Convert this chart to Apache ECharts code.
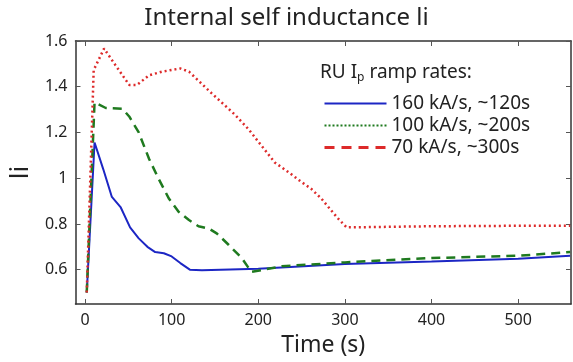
<!DOCTYPE html>
<html>
<head>
<meta charset="utf-8">
<script src="https://cdn.jsdelivr.net/npm/echarts@6/dist/echarts.min.js"></script>
<style>
  html, body { margin: 0; padding: 0; background: #fff; }
  #chart { width: 573px; height: 362px; }
</style>
</head>
<body>
<div id="chart"></div>
<script>
// time (s) and li values
const tBlue = [2, 11, 21, 31, 41, 52, 62, 72, 81, 91, 100, 110, 121, 135, 200, 300, 400, 500, 560]
const liBlue = [0.50, 1.156, 1.04, 0.918, 0.874, 0.785, 0.737, 0.70, 0.677, 0.672, 0.658, 0.629, 0.60, 0.598, 0.604, 0.625, 0.636, 0.648, 0.661]

const tGreen = [2, 11, 24, 43, 51, 62, 74, 85, 97, 108, 120, 131, 143, 152, 166, 181, 192, 227, 300, 400, 500, 560]
const liGreen = [0.50, 1.332, 1.307, 1.304, 1.27, 1.2, 1.084, 0.997, 0.91, 0.853, 0.817, 0.79, 0.78, 0.759, 0.708, 0.651, 0.59, 0.615, 0.632, 0.651, 0.661, 0.677]

const tRed = [2, 10, 22, 35, 51, 60, 74, 89, 110, 120, 146, 173, 189, 204, 219, 235, 250, 261, 273, 292, 302, 400, 500, 560]
const liRed = [0.50, 1.473, 1.567, 1.495, 1.408, 1.408, 1.45, 1.466, 1.48, 1.466, 1.372, 1.278, 1.213, 1.141, 1.069, 1.026, 0.983, 0.954, 0.91, 0.824, 0.785, 0.79, 0.792, 0.792]

const seriesNames = ['160 kA/s, ~120s', '100 kA/s, ~200s', '70 kA/s, ~300s']
const xTicks = [0, 100, 200, 300, 400, 500]
const yTicks = [0.6, 0.8, 1, 1.2, 1.4, 1.6]

const FONT = 'Noto Sans'
const pairs = (t, v) => t.map((x, i) => [x, v[i]])

const chart = echarts.init(document.getElementById('chart'))

const axisLine = { show: true, onZero: false, lineStyle: { color: '#333', width: 1.5 } }
const tick = (vals) => ({ inside: true, length: 5, customValues: vals, lineStyle: { color: '#555' } })

const option = {
  animation: false,
  title: {
    text: 'Internal self inductance li',
    left: 'center',
    top: 1,
    textStyle: { fontFamily: FONT, fontSize: 24, fontWeight: 'normal', color: '#222' }
  },
  grid: { left: 73, right: 2, top: 41, bottom: 55 },
  legend: {
    orient: 'vertical',
    left: 318,
    top: 89,
    itemWidth: 62,
    itemHeight: 10,
    itemGap: 3,
    itemStyle: { opacity: 0 },
    textStyle: { fontFamily: FONT, fontSize: 19, color: '#222' },
    data: [
      { name: seriesNames[0] },
      { name: seriesNames[1], lineStyle: { type: [2, 2], width: 2 } },
      { name: seriesNames[2], lineStyle: { type: [10, 7], width: 3 } }
    ]
  },
  graphic: [{
    type: 'text',
    left: 320,
    top: 63,
    style: {
      text: '{a|RU I}{s|p}{a| ramp rates:}',
      rich: {
        a: { fontFamily: FONT, fontSize: 19, fill: '#222' },
        s: { fontFamily: FONT, fontSize: 12, fill: '#222', padding: [10, 0, 0, 0] }
      }
    }
  }],
  xAxis: [{
    type: 'value',
    min: -11,
    max: 561,
    name: 'Time (s)',
    nameLocation: 'middle',
    nameGap: 30,
    nameTextStyle: { fontFamily: FONT, fontSize: 23, color: '#222' },
    axisLine,
    axisTick: tick(xTicks),
    axisLabel: { customValues: xTicks, fontFamily: FONT, fontSize: 16, color: '#222', margin: 8 },
    splitLine: { show: false }
  }, {
    type: 'value',
    position: 'top',
    min: -11,
    max: 561,
    axisLine,
    axisTick: tick(xTicks),
    axisLabel: { show: false },
    splitLine: { show: false }
  }],
  yAxis: [{
    type: 'value',
    min: 0.45,
    max: 1.6,
    name: 'li',
    nameLocation: 'middle',
    nameGap: 40,
    nameTextStyle: { fontFamily: FONT, fontSize: 26, color: '#222' },
    axisLine,
    axisTick: tick(yTicks),
    axisLabel: { customValues: yTicks, fontFamily: FONT, fontSize: 16, color: '#222', margin: 8 },
    splitLine: { show: false }
  }, {
    type: 'value',
    position: 'right',
    min: 0.45,
    max: 1.6,
    axisLine,
    axisTick: tick(yTicks),
    axisLabel: { show: false },
    splitLine: { show: false }
  }],
  series: [
    {
      name: seriesNames[0],
      type: 'line',
      symbol: 'none',
      data: pairs(tBlue, liBlue),
      itemStyle: { color: '#1c26c4' },
      lineStyle: { color: '#1c26c4', width: 2 }
    },
    {
      name: seriesNames[1],
      type: 'line',
      symbol: 'none',
      data: pairs(tGreen, liGreen),
      itemStyle: { color: '#1f7a1f' },
      lineStyle: { color: '#1f7a1f', width: 2.5, type: [9, 6] }
    },
    {
      name: seriesNames[2],
      type: 'line',
      symbol: 'none',
      data: pairs(tRed, liRed),
      itemStyle: { color: '#dd2a2a' },
      lineStyle: { color: '#dd2a2a', width: 2.5, type: [2, 3] }
    }
  ]
}

chart.setOption(option)
</script>
</body>
</html>
